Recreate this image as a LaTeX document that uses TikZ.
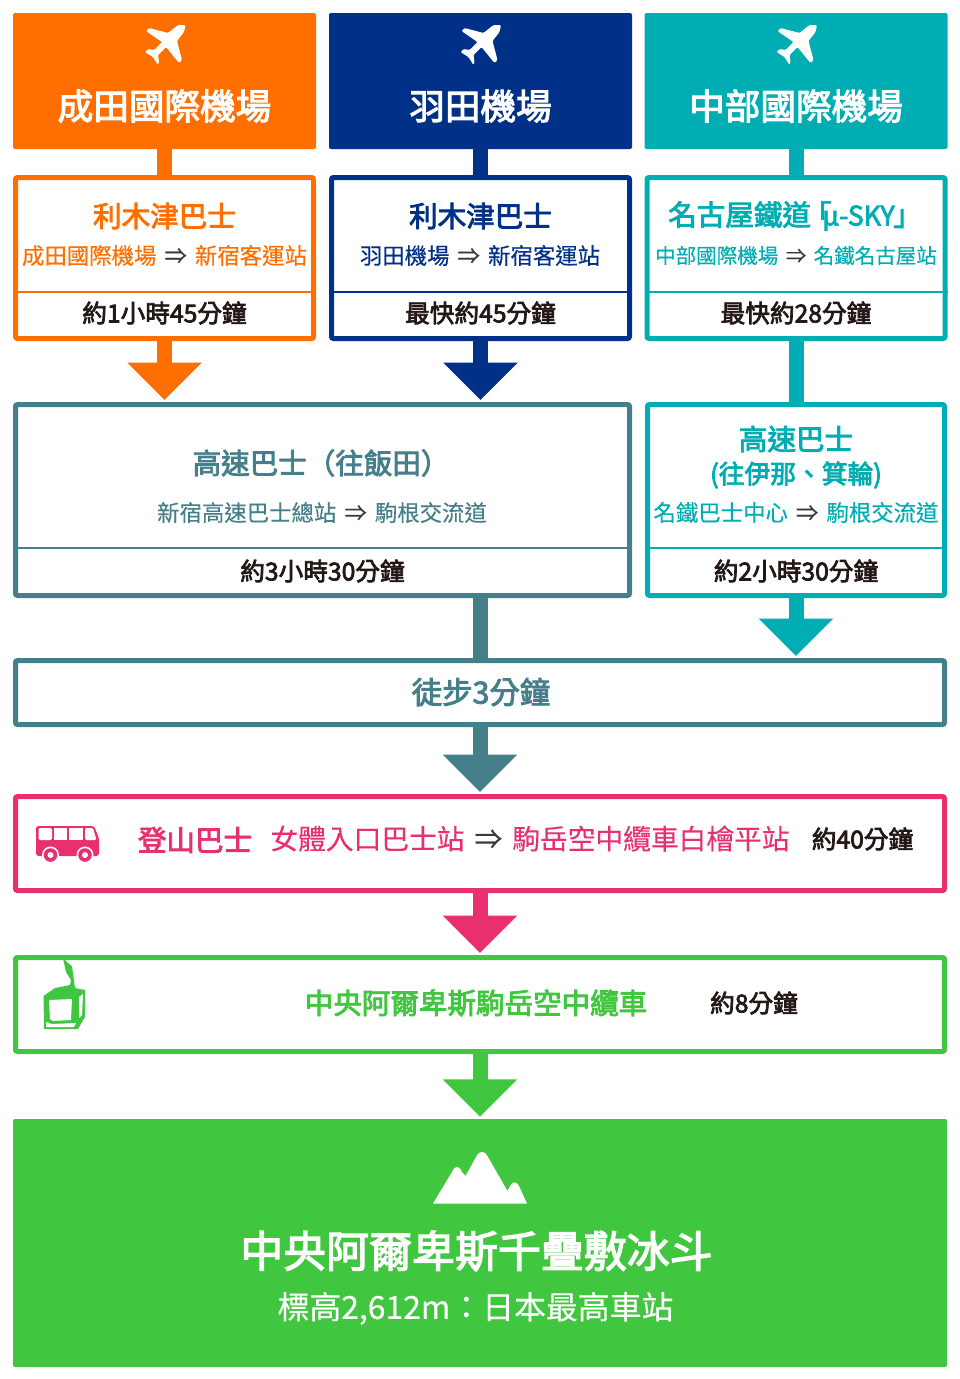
\documentclass[tikz,border=0pt]{standalone}
\usepackage{fontspec}
\usepackage{tikz}
\usetikzlibrary{arrows.meta}
\setmainfont[FakeBold=0.3]{Noto Sans CJK TC}
\newfontfamily\cjkmed[FakeBold=3]{Noto Sans CJK TC}
\definecolor{narita}{HTML}{FF6F00}
\definecolor{haneda}{HTML}{003087}
\definecolor{chubu}{HTML}{00ADB3}
\definecolor{slate}{HTML}{457F8A}
\definecolor{pinkbus}{HTML}{E83070}
\definecolor{ropeway}{HTML}{41C63F}
\definecolor{inktext}{HTML}{231815}
\definecolor{arrowgray}{HTML}{3A3A3A}
\newcommand{\thru}{\hspace{0.36em}\textcolor{arrowgray}{⇒}\hspace{0.36em}}
\tikzset{
  wh/.style 2 args={minimum width=#1*0.75pt,minimum height=#2*0.75pt},
  solidbox/.style={fill=#1,inner sep=0pt,rounded corners=1.5pt},
  framebox/.style={draw=#1,line width=3.75pt,inner sep=0pt,rounded corners=1.5pt},
  divider/.style={#1,line width=1.9pt},
  shaft/.style={#1,line width=11.25pt},
  flow/.style={#1,line width=11.25pt,shorten >=1.5pt,-{Triangle[width=54pt,length=28pt]}},
  ttl/.style={text=white,font=\cjkmed\fontsize{26.7}{30}\selectfont},
  hdr/.style={text=#1,font=\cjkmed\fontsize{21.4}{26}\selectfont},
  sub/.style={text=#1,font=\fontsize{16.8}{20}\selectfont},
  subs/.style={text=#1,font=\fontsize{15.4}{20}\selectfont},
  tim/.style={text=inktext,font=\cjkmed\fontsize{18.5}{22}\selectfont},
  plane/.pic={
    \fill[white,rounded corners=0.9pt] (20.5,-20) -- (19,-13) -- (12,-4) -- (17,15) -- (14,18) -- (1,2) -- (-7,10) -- (-6,17) -- (-7,20) -- (-12,12) -- (-20,7) -- (-17,4) -- (-11,5) -- (-3,-3) -- (-19,-14) -- (-16,-17) -- (3,-12) -- (13,-20) -- cycle;
  }
}
\begin{document}
\begin{tikzpicture}[x=0.75pt,y=-0.75pt]
\useasboundingbox (0,0) rectangle (960,1379);
% airports
\node[solidbox=narita,wh={303}{136}] (naritatop) at (164.5,81) {};
\node[solidbox=haneda,wh={303}{136}] (hanedatop) at (480.5,81) {};
\node[solidbox=chubu,wh={303}{136}] (chubutop) at (796,81) {};
\pic at (165,45) {plane};
\pic at (480.5,45) {plane};
\pic at (796.5,45) {plane};
\node[ttl] (naritaname) at (164.5,106) {成田國際機場};
\node[ttl] (hanedaname) at (480.5,106) {羽田機場};
\node[ttl] (chubuname) at (796,106) {中部國際機場};
% first leg
\node[framebox=narita,wh={298}{161}] (naritabus) at (164.5,258) {};
\node[framebox=haneda,wh={298}{161}] (hanedabus) at (480.5,258) {};
\node[framebox=chubu,wh={298}{161}] (chubutrain) at (796,258) {};
\draw[divider=narita] (naritabus.west |- 0,292) -- (naritabus.east |- 0,292);
\draw[divider=haneda] (hanedabus.west |- 0,292) -- (hanedabus.east |- 0,292);
\draw[divider=chubu] (chubutrain.west |- 0,292) -- (chubutrain.east |- 0,292);
\draw[shaft=narita] (naritatop.south) -- (naritabus.north);
\draw[shaft=haneda] (hanedatop.south) -- (hanedabus.north);
\draw[shaft=chubu] (chubutop.south) -- (chubutrain.north);
\node[hdr=narita] (naritahdr) at (164.5,216) {利木津巴士};
\node[hdr=haneda] (hanedahdr) at (480.5,216) {利木津巴士};
\node[hdr=chubu,anchor=west,inner sep=0pt] (chubuhdr) at (668,216) {名古屋鐵道\hspace{-0.28em}「\hspace{-0.32em}{\fontsize{20}{26}\selectfont µ-SKY}\hspace{-0.05em}」};
\node[sub=narita] (naritasub) at (164.5,255.5) {成田國際機場\thru 新宿客運站};
\node[sub=haneda] (hanedasub) at (480,255.5) {羽田機場\thru 新宿客運站};
\node[subs=chubu] (chubusub) at (796,255.5) {中部國際機場\thru 名鐵名古屋站};
\node[tim] (naritatime) at (164.5,313) {約1小時45分鐘};
\node[tim] (hanedatime) at (480.5,313) {最快約45分鐘};
\node[tim] (chubutime) at (796,313) {最快約28分鐘};
% highway buses
\node[framebox=slate,wh={614}{191}] (iidabus) at (322.5,500) {};
\node[framebox=chubu,wh={297}{191}] (inabus) at (796,500) {};
\draw[divider=slate] (iidabus.west |- 0,548) -- (iidabus.east |- 0,548);
\draw[divider=chubu] (inabus.west |- 0,548) -- (inabus.east |- 0,548);
\draw[flow=narita] (naritabus.south) -- (naritabus.south |- iidabus.north);
\draw[flow=haneda] (hanedabus.south) -- (hanedabus.south |- iidabus.north);
\draw[shaft=chubu] (chubutrain.south) -- (inabus.north);
\node[hdr=slate] (iidahdr) at (321,463) {高速巴士（往飯田）};
\node[sub=slate] (iidasub) at (322,512.5) {新宿高速巴士總站\thru 駒根交流道};
\node[tim] (iidatime) at (322.5,571) {約3小時30分鐘};
\node[hdr=chubu] (inahdr) at (796,439) {高速巴士};
\node[hdr=chubu,font=\cjkmed\fontsize{19.3}{24}\selectfont] (inadest) at (796,475) {(往伊那、箕輪)};
\node[sub=chubu] (inasub) at (796,512.5) {名鐵巴士中心\thru 駒根交流道};
\node[tim] (inatime) at (796,571) {約2小時30分鐘};
% walk
\node[framebox=slate,wh={929}{64}] (walk) at (480,692.5) {};
\draw[shaft=slate] (hanedabus.south |- iidabus.south) -- (hanedabus.south |- walk.north);
\draw[flow=chubu] (inabus.south) -- (inabus.south |- walk.north);
\node[hdr=slate,font=\cjkmed\fontsize{22.8}{26}\selectfont] (walktext) at (481,692) {徒步3分鐘};
% mountain bus
\node[framebox=pinkbus,wh={929}{94}] (mtbus) at (480,843.5) {};
\draw[flow=slate] (walk.south) -- (mtbus.north);
\fill[pinkbus,rounded corners=2pt] (36,826) -- (94,826) -- (99,838) -- (99,856) -- (36,856) -- cycle;
\fill[white,rounded corners=1pt] (38.5,828) rectangle (52,840);
\fill[white] (53.5,828) rectangle (67,840);
\fill[white] (69,828) rectangle (83,840);
\fill[white,rounded corners=1pt] (85,828) -- (93,828) -- (96.5,840) -- (85,840) -- cycle;
\fill[white] (50.5,855) circle (8.5);
\fill[white] (85,855) circle (8.5);
\fill[pinkbus] (50.5,855) circle (6.8);
\fill[pinkbus] (85,855) circle (6.8);
\fill[white] (50.5,855) circle (3);
\fill[white] (85,855) circle (3);
\node[hdr=pinkbus] (mtbusname) at (195,840) {登山巴士};
\node[sub=pinkbus,font=\fontsize{20.8}{24}\selectfont] (mtbusroute) at (530,838.5) {女體入口巴士站\thru 駒岳空中纜車白檜平站};
\node[tim] (mtbustime) at (862.5,839) {約40分鐘};
% ropeway
\node[framebox=ropeway,wh={929}{94}] (cable) at (480,1004.5) {};
\draw[flow=pinkbus] (mtbus.south) -- (cable.north);
\fill[ropeway] (63,958) -- (68,963) -- (72,966) -- (75,988) -- (85,990) -- (85,1017) -- (78,1029) -- (44,1029) -- (43.5,996) -- (55,988) -- (70,985) -- (71,980) -- (66,972) -- cycle;
\fill[white] (49,1000) -- (72,999) -- (71,1020) -- (53,1021) -- (50,1019) -- cycle;
\fill[white] (79,997) -- (83,994) -- (82,1015) -- (79,1018) -- cycle;
\fill[white] (46,1022) -- (52,1024) -- (76,1023) -- (74,1027) -- (46,1027) -- cycle;
\node[hdr=ropeway] (cabletext) at (476,1003) {中央阿爾卑斯駒岳空中纜車};
\node[tim] (cabletime) at (754,1003) {約8分鐘};
% summit
\node[solidbox=ropeway,wh={934}{248}] (summit) at (480,1243) {};
\draw[flow=ropeway] (cable.south) -- (summit.north);
\fill[white] (433,1203.5) -- (452,1172) .. controls (455,1165) and (459,1165) .. (462,1172) -- (465.5,1176) -- (476,1157) .. controls (480,1150) and (484,1150) .. (488,1157) -- (507.5,1191) -- (510,1186) .. controls (513,1181) and (516,1181) .. (519,1186) -- (527,1203.5) -- cycle;
\node[text=white,font=\cjkmed\fontsize{32.2}{38}\selectfont] (summitname) at (476.5,1251) {中央阿爾卑斯千疊敷冰斗};
\node[text=white,font=\fontsize{23.9}{28}\selectfont] (summitnote) at (475.5,1308.5) {標高2,612m：日本最高車站};
\end{tikzpicture}
\end{document}
